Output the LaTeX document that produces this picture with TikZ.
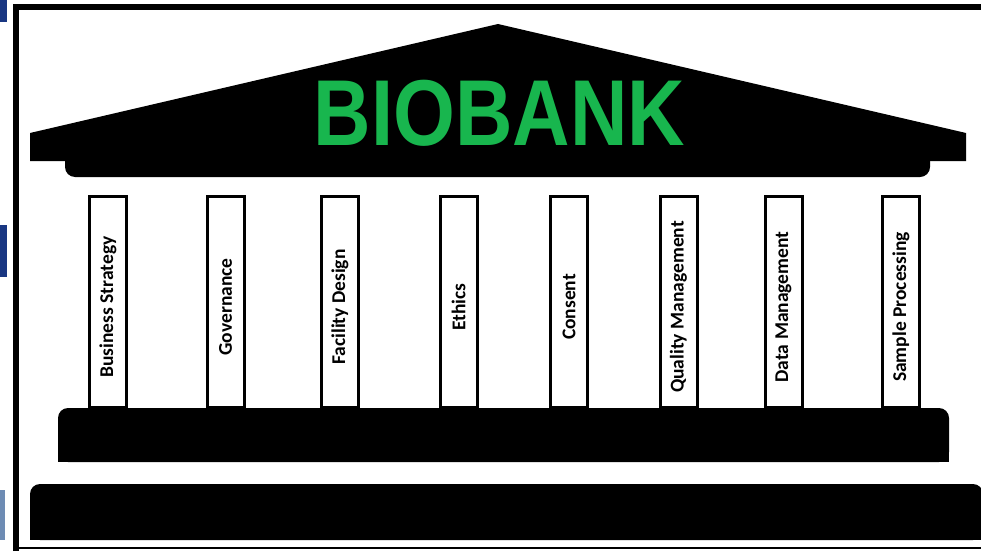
\documentclass[tikz,border=0pt]{standalone}
\usepackage{fontspec}
\setmainfont{Carlito}
\newfontfamily\titlefont{Liberation Sans}
\definecolor{bbgreen}{RGB}{24,182,78}
\definecolor{artnavy}{RGB}{25,55,130}
\definecolor{artsteel}{RGB}{110,140,180}
\begin{document}
\begin{tikzpicture}[x=1pt,y=-1pt,
  colbox/.style={draw=black, line width=3pt, fill=white, minimum width=37pt, minimum height=211pt, inner sep=0pt},
  collabel/.style={rotate=90, font=\bfseries\fontsize{19.5}{22}\selectfont, inner sep=0pt},
  title/.style={text=bbgreen, font=\titlefont\bfseries\fontsize{93.6}{100}\selectfont, inner sep=0pt, anchor=base, xscale=0.85, transform shape}]
\useasboundingbox (0,0) rectangle (981,551);
% artifacts at the left edge
\fill[artnavy] (0,0) rectangle (7,22);
\fill[artnavy] (0,225) rectangle (7,277);
\fill[artsteel] (0,490) rectangle (5,540);
% frame
\draw[line width=6pt] (16,551) -- (16,7.5) -- (981,7.5);
\draw[line width=2pt] (16,548) -- (981,548);
% roof
\fill[black] (30,133) -- (498,24) -- (966,133) -- (966,161) -- (30,161) -- cycle;
\fill[black, rounded corners=10pt] (65,150) rectangle (930,177);
\node[title] (bb) at (499.5,145) {BIOBANK};
% columns
\node[colbox] (c1) at (108,301.5) {};
\node[colbox] (c2) at (225.5,301.5) {};
\node[colbox] (c3) at (340,301.5) {};
\node[colbox] (c4) at (458.5,301.5) {};
\node[colbox] (c5) at (569,301.5) {};
\node[colbox] (c6) at (678.5,301.5) {};
\node[colbox] (c7) at (783.5,301.5) {};
\node[colbox] (c8) at (901,301.5) {};
\node[collabel] (l1) at (108,307) {Business Strategy};
\node[collabel] (l2) at (225.5,307) {Governance};
\node[collabel] (l3) at (340,307) {Facility Design};
\node[collabel] (l4) at (458.5,307) {Ethics};
\node[collabel] (l5) at (569,307) {Consent};
\node[collabel] (l6) at (678.5,307) {Quality Management};
\node[collabel] (l7) at (783.5,307) {Data Management};
\node[collabel] (l8) at (901,307) {Sample Processing};
% base slabs
\fill[black, rounded corners=10pt] (58,408) rectangle (949,462);
\fill[black] (58,430) rectangle (949,462);
\fill[black, rounded corners=10pt] (30,484) rectangle (983,540);
\fill[black] (30,510) rectangle (983,540);
\end{tikzpicture}
\end{document}
